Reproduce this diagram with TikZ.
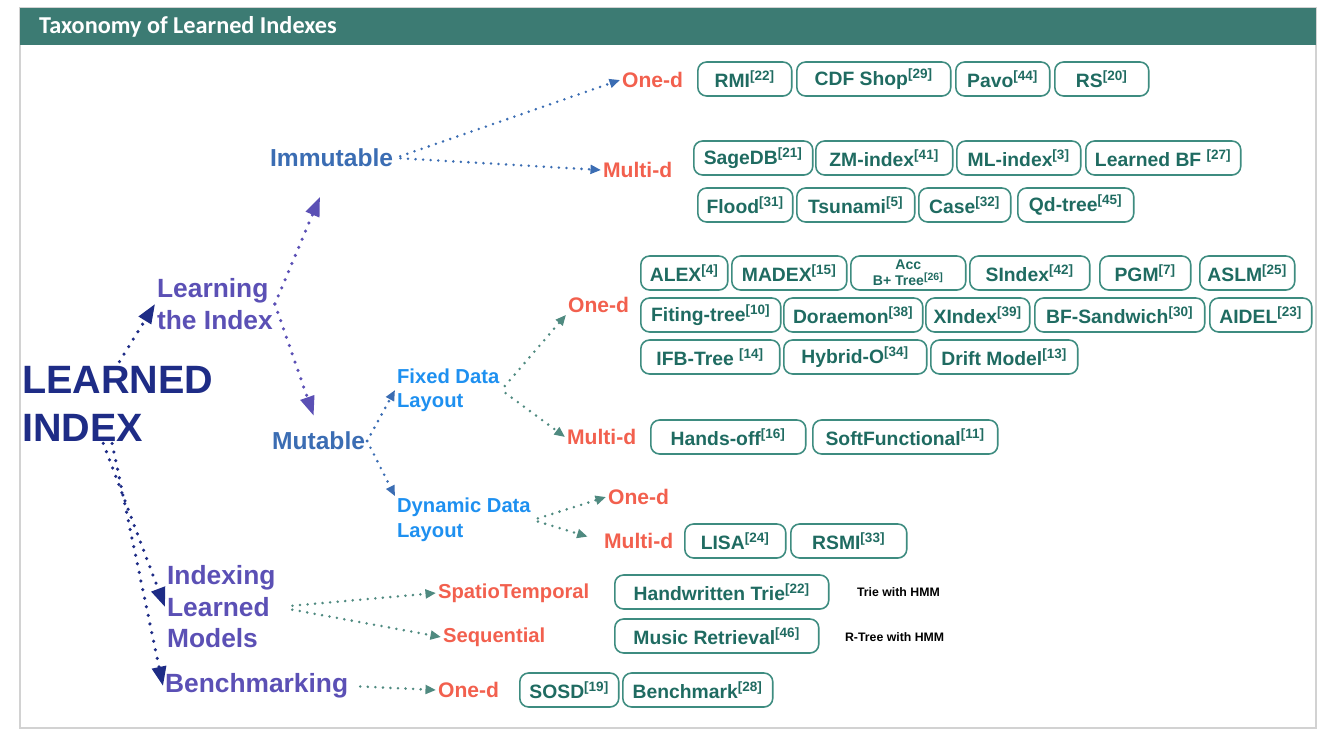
\documentclass[tikz,border=0pt]{standalone}
\usepackage{fontspec}
\setmainfont{Liberation Sans}
\newfontfamily\titlefont{Carlito}
\usetikzlibrary{arrows.meta}

\definecolor{hdrteal}{HTML}{3C7B73}
\definecolor{boxteal}{HTML}{3E8C80}
\definecolor{boxtext}{HTML}{1F6B61}
\definecolor{coral}{HTML}{F2604E}
\definecolor{navy}{HTML}{1E2C86}
\definecolor{learnpurple}{HTML}{5B50B5}
\definecolor{mutblue}{HTML}{3B6DB3}
\definecolor{layblue}{HTML}{1E90F0}
\definecolor{linkteal}{HTML}{4F8A80}

\newcommand{\refnum}[1]{\textsuperscript{[#1]}}

\tikzset{
    item/.style={draw=boxteal, line width=0.9pt, rounded corners=5pt, text=boxtext,
        font=\bfseries\fontsize{11}{12}\selectfont, minimum height=0.68cm, anchor=west, inner sep=2pt},
    leaf/.style={text=coral, font=\bfseries\fontsize{12}{14}\selectfont, anchor=west, inner sep=1pt},
    branch/.style={anchor=west, align=left, inner sep=1pt, font=\bfseries\fontsize{15}{18.5}\selectfont},
    note/.style={anchor=west, inner sep=1pt, font=\bfseries\fontsize{7}{8}\selectfont},
    link/.style={line width=1.6pt, dash pattern=on 0pt off 4.3pt, line cap=round,
        -{Triangle[length=6pt,width=5pt]}},
    biglink/.style={line width=2pt, dash pattern=on 0pt off 5pt, line cap=round,
        -{Triangle[length=11pt,width=8pt]}}
}

\begin{document}
\begin{tikzpicture}[x=0.02cm, y=-0.02cm]
    \useasboundingbox (0,0) rectangle (1325,734);
    \draw[gray!35, line width=0.8pt] (20,8) rectangle (1316,728);
    \fill[hdrteal] (20,8) rectangle (1316,45);
    \node (title) at (33,27) [anchor=west, text=white, font=\titlefont\bfseries\fontsize{13.8}{15}\selectfont] {Taxonomy of Learned Indexes};

    % left-hand tree
    \node (learned) at (20,404) [branch, text=navy, font=\bfseries\fontsize{22.5}{27}\selectfont] {LEARNED\\INDEX};
    \node (learning) at (155,304) [branch, text=learnpurple] {Learning\\the Index};
    \node (indexing) at (165,607) [branch, text=learnpurple, font=\bfseries\fontsize{15}{17.9}\selectfont] {Indexing\\Learned\\Models};
    \node (bench) at (163,686) [branch, text=learnpurple] {Benchmarking};
    \node (immutable) at (268,158) [branch, text=mutblue, font=\bfseries\fontsize{14}{16}\selectfont] {Immutable};
    \node (mutable) at (270,441) [branch, text=mutblue, font=\bfseries\fontsize{14}{16}\selectfont] {Mutable};
    \node (fixed) at (395,390) [branch, text=layblue, font=\bfseries\fontsize{11.5}{13.6}\selectfont] {Fixed Data\\Layout};
    \node (dynamic) at (395,520) [branch, text=layblue, font=\bfseries\fontsize{11.5}{14}\selectfont] {Dynamic Data\\Layout};

    % data kinds
    \node (imOne) at (620,80) [leaf] {One-d};
    \node (imMulti) at (601,170) [leaf] {Multi-d};
    \node (fxOne) at (566,305) [leaf] {One-d};
    \node (fxMulti) at (565,437) [leaf] {Multi-d};
    \node (dyOne) at (606,497) [leaf] {One-d};
    \node (dyMulti) at (602,541) [leaf] {Multi-d};
    \node (spatio) at (436,593) [leaf, font=\bfseries\fontsize{11.5}{14}\selectfont] {SpatioTemporal};
    \node (seq) at (441,637) [leaf, font=\bfseries\fontsize{11.5}{14}\selectfont] {Sequential};
    \node (bmOne) at (436,690) [leaf] {One-d};

    % index boxes
    \foreach \x/\w/\t [count=\i] in {697/1.88/RMI\refnum{22}, 796/3.08/CDF Shop\refnum{29},
            955/1.88/Pavo\refnum{44}, 1054/1.88/RS\refnum{20}}
        \node (imo\i) at (\x,79) [item, minimum width=\w cm] {\t};
    \foreach \x/\w/\t [count=\i] in {693/2.38/SageDB\refnum{21}, 815/2.74/ZM-index\refnum{41},
            956/2.48/ML-index\refnum{3}, 1085/3.10/Learned BF \refnum{27}}
        \node (imm\i) at (\x,158) [item, minimum width=\w cm] {\t};
    \foreach \x/\w/\t [count=\i] in {697/1.90/Flood\refnum{31}, 796/2.36/Tsunami\refnum{5},
            918/1.84/Case\refnum{32}, 1017/2.32/Qd-tree\refnum{45}}
        \node (imn\i) at (\x,205) [item, minimum width=\w cm] {\t};

    \foreach \x/\w/\t [count=\i] in {640/1.74/ALEX\refnum{4}, 731/2.30/MADEX\refnum{15},
            969/2.40/SIndex\refnum{42}, 1099/1.82/PGM\refnum{7}, 1199/1.90/ASLM\refnum{25}}
        \node (fxa\i) at (\x,273) [item, minimum width=\w cm] {\t};
    \node (accb) at (850,273) [item, minimum width=2.30cm, align=center,
        font=\bfseries\fontsize{8}{9}\selectfont] {Acc\\B+ Tree\refnum{26}};
    \foreach \x/\w/\t [count=\i] in {640/2.80/Fiting-tree\refnum{10}, 783/2.78/Doraemon\refnum{38},
            925/2.08/XIndex\refnum{39}, 1034/3.40/BF-Sandwich\refnum{30}, 1209/2.04/AIDEL\refnum{23}}
        \node (fxb\i) at (\x,315) [item, minimum width=\w cm] {\t};
    \foreach \x/\w/\t [count=\i] in {640/2.78/IFB-Tree \refnum{14}, 783/2.86/Hybrid-O\refnum{34},
            930/2.94/Drift Model\refnum{13}}
        \node (fxc\i) at (\x,357) [item, minimum width=\w cm] {\t};
    \foreach \x/\w/\t [count=\i] in {650/3.10/Hands-off\refnum{16}, 812/3.70/SoftFunctional\refnum{11}}
        \node (fxm\i) at (\x,437) [item, minimum width=\w cm] {\t};
    \foreach \x/\w/\t [count=\i] in {684/2.02/LISA\refnum{24}, 790/2.32/RSMI\refnum{33}}
        \node (dym\i) at (\x,541) [item, minimum width=\w cm] {\t};

    \node (trie) at (614,592) [item, minimum width=4.28cm] {Handwritten Trie\refnum{22}};
    \node (music) at (614,636) [item, minimum width=4.08cm] {Music Retrieval\refnum{46}};
    \node (sosd) at (519,690) [item, minimum width=1.98cm] {SOSD\refnum{19}};
    \node (bmark) at (622,690) [item, minimum width=3.00cm] {Benchmark\refnum{28}};

    \node (trieNote) at (855,592) [note] {Trie with HMM};
    \node (musicNote) at (843,637) [note] {R-Tree with HMM};

    % connectors
    \draw[biglink, navy, shorten <=2pt] (learned.north) -- (learning.west);
    \draw[biglink, navy] (learned.250) -- (indexing.west);
    \draw[biglink, navy] (learned.262) -- (bench.west);
    \draw[biglink, learnpurple, shorten >=0.6cm] (learning.east) -- (immutable.south);
    \draw[biglink, learnpurple, shorten >=0.3cm] (learning.east) -- (mutable.north);

    \draw[link, mutblue, shorten <=3pt] (immutable.east) -- (imOne.west);
    \draw[link, mutblue, shorten <=3pt] (immutable.east) -- (imMulti.west);
    \draw[link, mutblue] (mutable.east) -- (fixed.west);
    \draw[link, mutblue] (mutable.east) -- (dynamic.north west);

    \draw[link, linkteal, shorten <=3pt] (fixed.east) -- (fxOne.south west);
    \draw[link, linkteal, shorten <=3pt] (fixed.east) -- (fxMulti.west);
    \draw[link, linkteal, shorten <=3pt] (dynamic.east) -- (dyOne.west);
    \draw[link, linkteal, shorten <=3pt, shorten >=0.3cm] (dynamic.east) -- (dyMulti.west);
    \draw[link, linkteal, shorten <=0.3cm] (indexing.east) -- (spatio.west);
    \draw[link, linkteal, shorten <=0.3cm] (indexing.east) -- (seq.west);
    \draw[link, linkteal, shorten <=0.2cm] (bench.east) -- (bmOne.west);
\end{tikzpicture}
\end{document}
